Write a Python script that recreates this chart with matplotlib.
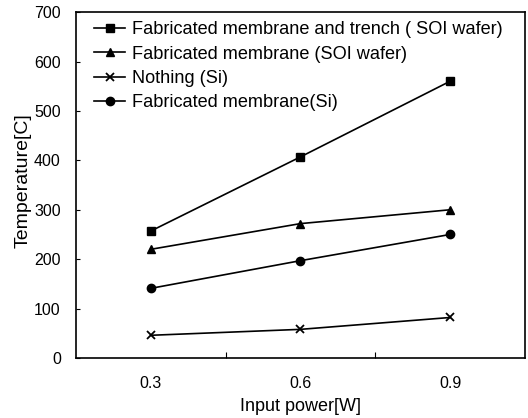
import matplotlib
matplotlib.use("Agg")
import matplotlib.pyplot as plt

plt.rcParams['font.family'] = ['Liberation Sans', 'DejaVu Sans']

# input power categories
power_labels = ['0.3', '0.6', '0.9']

# temperatures
trench_soi = [257, 407, 560]
membrane_soi = [220, 272, 300]
nothing_si = [46, 58, 82]
membrane_si = [141, 197, 250]

series_names = ['Fabricated membrane and trench ( SOI wafer)',
                'Fabricated membrane (SOI wafer)',
                'Nothing (Si)',
                'Fabricated membrane(Si)']

fig = plt.figure(figsize=(5.28, 4.18), dpi=100)
ax = fig.add_axes([0.144, 0.1435, 0.850, 0.8275])

x = range(len(power_labels))
ax.plot(x, trench_soi, 'k-', marker='s', ms=6, lw=1.2, label=series_names[0])
ax.plot(x, membrane_soi, 'k-', marker='^', ms=6, lw=1.2, label=series_names[1])
ax.plot(x, nothing_si, 'k-', marker='x', ms=6, mew=1.3, lw=1.2, label=series_names[2])
ax.plot(x, membrane_si, 'k-', marker='o', ms=6, lw=1.2, label=series_names[3])

ax.set_xlim(-0.5, 2.5)
ax.set_ylim(0, 700)
ax.set_yticks(range(0, 701, 100))
ax.set_xticks([0.5, 1.5])
ax.set_xticklabels([])
ax.set_xticks(list(x), minor=True)
ax.set_xticklabels(power_labels, minor=True)
ax.tick_params(axis='x', which='minor', length=0, pad=13, labelsize=11.5)
ax.tick_params(axis='x', which='major', direction='in', length=4)
ax.tick_params(axis='y', direction='in', length=3, labelsize=11.5, pad=11)

for s in ax.spines.values():
    s.set_linewidth(1.2)

ax.set_xlabel('Input power[W]', fontsize=13)
ax.xaxis.set_label_coords(0.5, -0.115)
ax.set_ylabel('Temperature[C]', fontsize=14)
ax.yaxis.set_label_coords(-0.100, 0.514)

ax.legend(loc='upper left', frameon=False, fontsize=13.1, handlelength=1.7,
          handletextpad=0.4, labelspacing=0.4, borderaxespad=0.3,
          bbox_to_anchor=(0.012, 1.01))

fig.savefig('out.png', dpi=100)
